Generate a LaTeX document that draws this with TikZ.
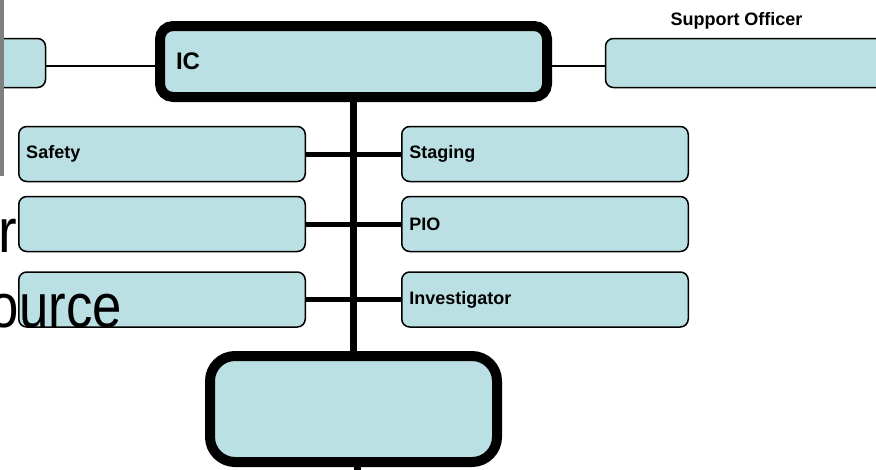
\documentclass[tikz,border=0pt]{standalone}
\usepackage{fontspec}
\setmainfont{Liberation Sans}
\definecolor{boxfill}{RGB}{187,224,227}
\definecolor{bargray}{RGB}{128,128,128}
\begin{document}
\begin{tikzpicture}[x=1pt,y=-1pt,
  smallbox/.style={draw=black, line width=1.5pt, fill=boxfill, rounded corners=8pt,
    inner ysep=0pt, anchor=center},
  rowbox/.style={smallbox, minimum height=55pt, inner xsep=7.5pt, text width=271.5pt,
    align=left, font=\fontsize{18}{20}\selectfont\bfseries},
  bigbox/.style={draw=black, line width=10pt, fill=boxfill, anchor=center, inner sep=0pt},
  thin/.style={draw=black, line width=1.5pt},
  thickh/.style={draw=black, line width=5pt},
  thickv/.style={draw=black, line width=7pt},
  bgtext/.style={inner sep=0pt, font=\fontsize{62}{70}\selectfont}]
\useasboundingbox (0,0) rectangle (876,469);
% top row
\node[smallbox, minimum width=65.5pt, minimum height=49pt] (lefttop) at (12.75,63) {};
\node[smallbox, minimum width=300pt, minimum height=49pt] (support) at (755.5,63) {};
\node[inner sep=0pt, anchor=base, font=\fontsize{18}{20}\selectfont\bfseries] (sotitle) at (736.5,25) {Support Officer};
\node[bigbox, rounded corners=13pt, minimum width=387pt, minimum height=71pt,
  inner xsep=16pt, text width=355pt, align=left, font=\fontsize{24}{26}\selectfont\bfseries] (ic) at (353.5,61.5) {IC};
% rows
\node[rowbox] (safety) at (162,154) {Safety};
\node[rowbox] (left2) at (162,224) {};
\node[rowbox] (left3) at (162,299.5) {};
\node[rowbox] (staging) at (545,154) {Staging};
\node[rowbox] (pio) at (545,224) {PIO};
\node[rowbox] (invest) at (545,299.5) {Investigator};
% bottom box
\node[bigbox, rounded corners=25pt, minimum width=287pt, minimum height=106pt] (bottom) at (353.5,409) {};
% connectors
\coordinate (lvl) at (0,66);
\coordinate (tail) at (357,480);
\draw[thin] (lefttop.east |- lvl) -- (ic.west |- lvl);
\draw[thin] (ic.east |- lvl) -- (support.west |- lvl);
\draw[thickv] (ic.south) -- (bottom.north);
\draw[thickv] (bottom.south -| tail) -- (tail);
\draw[thickh] (safety.east) -- (staging.west);
\draw[thickh] (left2.east) -- (pio.west);
\draw[thickh] (left3.east) -- (invest.west);
% gray bar at left
\fill[bargray] (0,0) rectangle (4,176);
% background text fragments
\node[bgtext, anchor=base west] (bgr) at (-2,252) {\scalebox{0.9}[1]{r}};
\node[bgtext, anchor=base east] (bgource) at (122,327) {\scalebox{0.85}[1]{ource}};
\end{tikzpicture}
\end{document}
